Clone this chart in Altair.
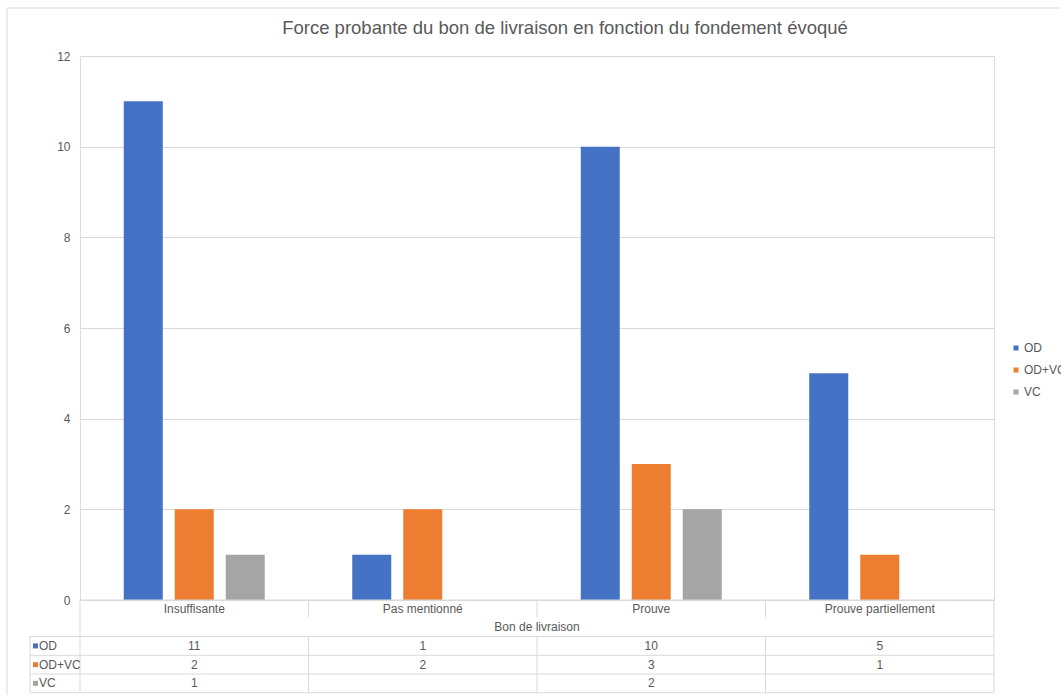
import altair as alt
import pandas as pd

# ---------------- data ----------------
title_text = "Force probante du bon de livraison en fonction du fondement évoqué"
x_title = "Bon de livraison"
categories = ["Insuffisante", "Pas mentionné", "Prouve", "Prouve partiellement"]
series = ["OD", "OD+VC", "VC"]
od_values = [11, 1, 10, 5]
odvc_values = [2, 2, 3, 1]
vc_values = [1, None, 2, None]
colors = ["#4472C4", "#ED7D31", "#A5A5A5"]
y_ticks = [0, 2, 4, 6, 8, 10, 12]

records = []
for s, vals in zip(series, [od_values, odvc_values, vc_values]):
    for c, v in zip(categories, vals):
        if v is not None:
            records.append({"categorie": c, "serie": s, "valeur": v})
data = pd.DataFrame(records)

# ---------------- layout / style ----------------
W, H = 914, 544
PAD = {"left": 80, "top": 56, "right": 67, "bottom": 95}
FONT = "Liberation Sans"
TXT = "#595959"
LINE = "#D9D9D9"
FS = 12

CAT_ROW_Y = H + 8.5
CAT_ROW_BOTTOM = H + 17
XTITLE_ROW_Y = H + 27
ROW_LINES = [H + 36.5, H + 55.3, H + 74, H + 92.7]
ROW_CENTERS = [(ROW_LINES[i] + ROW_LINES[i + 1]) / 2 for i in range(3)]
LEFT_COL_X = -50

one = alt.Data(values=[{}])

x_enc = alt.X(
    "categorie:N",
    scale=alt.Scale(domain=categories, paddingInner=0, paddingOuter=0),
    axis=None,
)

bars = alt.Chart(data).mark_bar().encode(
    x=x_enc,
    xOffset=alt.XOffset(
        "serie:N",
        scale=alt.Scale(domain=series, paddingInner=0.235, paddingOuter=0.858),
    ),
    y=alt.Y(
        "valeur:Q",
        scale=alt.Scale(domain=[0, 12], nice=False),
        axis=alt.Axis(
            values=y_ticks,
            title=None,
            grid=True,
            gridColor=LINE,
            domain=False,
            ticks=False,
            labelPadding=10,
            labelFontSize=FS,
            labelFont=FONT,
            labelColor=TXT,
        ),
    ),
    color=alt.Color(
        "serie:N",
        scale=alt.Scale(domain=series, range=colors),
        legend=alt.Legend(
            orient="none",
            legendX=930,
            legendY=286,
            title=None,
            padding=0,
            symbolType="square",
            symbolSize=25,
            symbolStrokeWidth=0,
            labelFontSize=FS,
            labelFont=FONT,
            labelColor=TXT,
            labelOffset=2,
            rowPadding=10,
        ),
    ),
)

layers = [bars]


def hline(y, x1, x2):
    return alt.Chart(one).mark_rule(color=LINE, strokeWidth=1).encode(
        x=alt.value(x1), x2=alt.value(x2), y=alt.value(y)
    )


def vline(x, y1, y2):
    return alt.Chart(one).mark_rule(color=LINE, strokeWidth=1).encode(
        x=alt.value(x), y=alt.value(y1), y2=alt.value(y2)
    )


# outer chart frame
layers.append(hline(-48, -73, W + PAD["right"]))
layers.append(vline(-73, -48, H + PAD["bottom"]))

# table grid
layers.append(hline(H, 0, W))
for y in ROW_LINES:
    layers.append(hline(y, LEFT_COL_X, W))
layers.append(vline(0, H, ROW_LINES[-1]))
layers.append(vline(W, H, ROW_LINES[-1]))
layers.append(vline(LEFT_COL_X, ROW_LINES[0], ROW_LINES[-1]))

sep_df = pd.DataFrame({"categorie": categories[1:]})
x_sep = alt.X(
    "categorie:N",
    scale=alt.Scale(domain=categories, paddingInner=0, paddingOuter=0),
    axis=None,
    bandPosition=0,
)
layers.append(
    alt.Chart(sep_df).mark_rule(color=LINE).encode(
        x=x_sep, y=alt.value(H), y2=alt.value(CAT_ROW_BOTTOM)
    )
)
layers.append(
    alt.Chart(sep_df).mark_rule(color=LINE).encode(
        x=x_sep, y=alt.value(ROW_LINES[0]), y2=alt.value(ROW_LINES[-1])
    )
)

text_style = dict(font=FONT, fontSize=FS, color=TXT, baseline="middle")

# category labels
layers.append(
    alt.Chart(pd.DataFrame({"categorie": categories})).mark_text(**text_style).encode(
        x=x_enc, y=alt.value(CAT_ROW_Y), text="categorie:N"
    )
)
# axis title row
layers.append(
    alt.Chart(alt.Data(values=[{"t": x_title}])).mark_text(**text_style).encode(
        x=alt.value(W / 2), y=alt.value(XTITLE_ROW_Y), text="t:N"
    )
)

# data rows
for i, s in enumerate(series):
    layers.append(
        alt.Chart(data)
        .transform_filter(alt.datum.serie == s)
        .mark_text(**text_style)
        .encode(x=x_enc, y=alt.value(ROW_CENTERS[i]), text="valeur:Q")
    )
    layers.append(
        alt.Chart(alt.Data(values=[{"serie": s}]))
        .mark_square(size=25, color=colors[i], opacity=1)
        .encode(x=alt.value(LEFT_COL_X + 5.5), y=alt.value(ROW_CENTERS[i]))
    )
    layers.append(
        alt.Chart(alt.Data(values=[{"serie": s}]))
        .mark_text(align="left", **text_style)
        .encode(x=alt.value(LEFT_COL_X + 9), y=alt.value(ROW_CENTERS[i]), text="serie:N")
    )

chart = (
    alt.layer(*layers)
    .properties(
        width=W,
        height=H,
        padding=PAD,
        autosize=alt.AutoSizeParams(type="none"),
        title=alt.TitleParams(
            text=title_text,
            font=FONT,
            fontSize=18.5,
            fontWeight="normal",
            color=TXT,
            anchor="middle",
            dx=28,
            offset=-30,
        ),
    )
    .configure_view(stroke=None)
    .configure(background="white")
)

chart.save("out.html", embed_options={"renderer": "svg", "actions": False})
